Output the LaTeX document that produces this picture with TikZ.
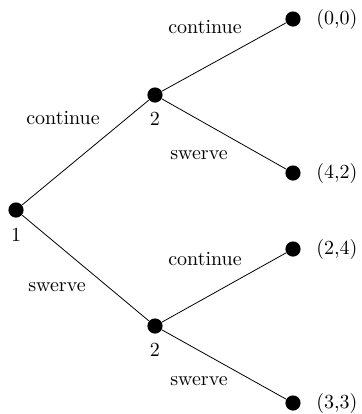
\documentclass[tikz,border=0pt]{standalone}
\begin{document}
\begin{tikzpicture}[x=0.5pt, y=-0.5pt]
% Game tree: player 1 moves first, player 2 answers
\providecommand{\treeDotSize}{7.6pt}
\providecommand{\treeLineWidth}{0.4pt}
\tikzset{
  decision/.style={circle, fill=black, inner sep=0pt, minimum size=\treeDotSize},
  payoff/.style={anchor=west, inner sep=0pt},
  movelabel/.style={inner sep=0pt},
  playerlabel/.style={inner sep=0pt},
  branch/.style={draw=black, line width=\treeLineWidth}
}
\useasboundingbox (0,0) rectangle (362,414);
% Decision nodes
\node[decision] (root) at (16,210) {};
\node[decision] (upper) at (155,95) {};
\node[decision] (lower) at (155,326) {};
% Terminal nodes
\node[decision] (cc) at (293,19) {};
\node[decision] (cs) at (293,173) {};
\node[decision] (sc) at (293,249) {};
\node[decision] (ss) at (293,403) {};
% Players
\node[playerlabel] (pone) at (16,235) {1};
\node[playerlabel] (ptwoa) at (155,119) {2};
\node[playerlabel] (ptwob) at (155,350) {2};
% Payoffs
\node[payoff] (vcc) at (316,19) {(0,0)};
\node[payoff] (vcs) at (316,173) {(4,2)};
\node[payoff] (vsc) at (316,249) {(2,4)};
\node[payoff] (vss) at (316,403) {(3,3)};
% Branches
\begin{scope}[branch]
  \draw (root) -- (upper);
  \draw (root) -- (lower);
  \draw (upper) -- (cc);
  \draw (upper) -- (cs);
  \draw (lower) -- (sc);
  \draw (lower) -- (ss);
\end{scope}
% Moves
\node[movelabel] (mc) at (63,118) {continue};
\node[movelabel] (ms) at (57,287) {swerve};
\node[movelabel] (mcc) at (205,27) {continue};
\node[movelabel] (mcs) at (199,155) {swerve};
\node[movelabel] (msc) at (205,259) {continue};
\node[movelabel] (mss) at (199,381) {swerve};
\end{tikzpicture}
\end{document}
